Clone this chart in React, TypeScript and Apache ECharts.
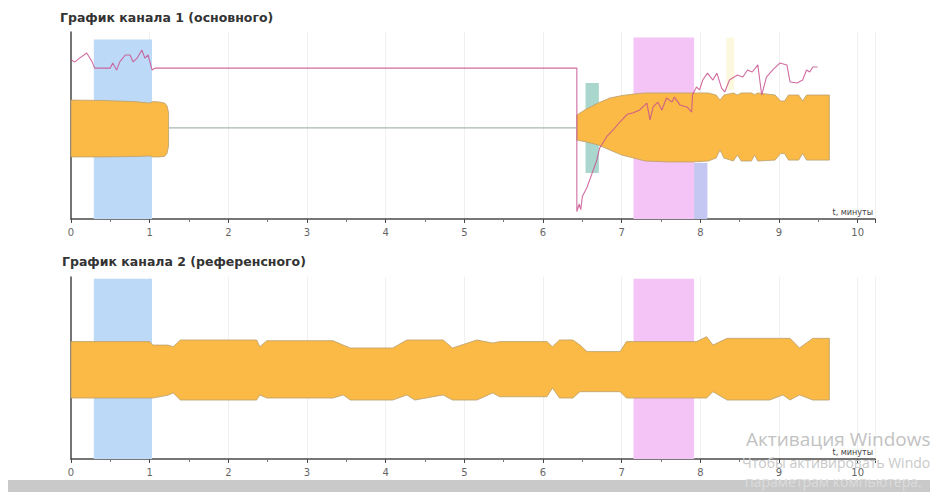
import React, { useEffect, useRef } from "react";
import * as echarts from "echarts";

// ---------- data (time in minutes, levels in relative units 0..100) ----------
const minuteLabels = [0, 1, 2, 3, 4, 5, 6, 7, 8, 9, 10];

// background intervals: [start, end, low, high, kind]
const ch1Intervals: [number, number, number, number, string][] = [
  [0.29, 1.03, 0, 96, "calib"],
  [6.54, 6.71, 24.6, 72.7, "teal"],
  [7.15, 7.92, 0, 97, "stim"],
  [7.92, 8.09, 0, 30, "lav"],
  [8.33, 8.43, 69, 97, "yel"],
];
const ch2Intervals: [number, number, number, number, string][] = [
  [0.29, 1.03, 0, 99, "calib"],
  [7.15, 7.92, 0, 99, "stim"],
];

// channel 1 envelope, segment A
const ch1A_t = [0, 0.4, 0.8, 1.0, 1.04, 1.12, 1.19, 1.22, 1.24];
const ch1A_low = [33.2, 33.2, 33.4, 33.7, 33.2, 33.2, 33.5, 35, 39];
const ch1A_high = [63.6, 63.4, 62.8, 62.0, 62.8, 62.6, 62.0, 60.5, 57];
// channel 1 envelope, segment B
const ch1B_t = [6.43, 6.55, 6.7, 6.85, 7.0, 7.15, 7.3, 7.6, 7.9, 8.1, 8.2, 8.25, 8.3, 8.42, 8.47, 8.52, 8.65, 8.69, 8.73, 8.95, 9.02, 9.07, 9.12, 9.25, 9.3, 9.35, 9.64];
const ch1B_low = [42.2, 41.2, 39.6, 36.9, 34.2, 32.6, 31, 30.5, 30.5, 31, 32.6, 36.9, 32.6, 31, 34.2, 31, 31, 34.2, 31, 31.5, 35, 35, 31.5, 31.5, 35, 31.5, 31.5];
const ch1B_high = [55.6, 58.8, 62, 64.7, 66, 66.8, 67.4, 67.4, 67.4, 67.4, 66.3, 63.6, 66.3, 67.4, 66.3, 67.4, 67.4, 66.5, 67.4, 66.3, 63.1, 63.1, 66.3, 66.3, 63.1, 66.3, 66.3];
// channel 1 flat trace between segments
const ch1Flat_t = [1.24, 6.43];
const ch1Flat_v = [48.7, 48.7];

// channel 1 second parameter (magenta trace)
const ch1Trace_t = [0, 0.05, 0.11, 0.2, 0.27, 0.3, 0.5, 0.53, 0.58, 0.62, 0.69, 0.75, 0.79, 0.84, 0.9, 0.94, 0.98, 1.03, 1.07, 6.43, 6.43, 6.46, 6.48, 6.5, 6.56, 6.62, 6.68, 6.72, 6.81, 6.89, 6.98, 7.07, 7.14, 7.23, 7.32, 7.36, 7.4, 7.46, 7.51, 7.57, 7.64, 7.67, 7.74, 7.83, 7.89, 7.9, 7.95, 7.99, 8.03, 8.09, 8.16, 8.21, 8.27, 8.31, 8.37, 8.41, 8.47, 8.54, 8.6, 8.66, 8.73, 8.78, 8.84, 8.92, 9.01, 9.1, 9.14, 9.23, 9.3, 9.35, 9.39, 9.43, 9.49];
const ch1Trace_v = [85, 84, 86, 88.8, 84, 80.7, 80.7, 83.4, 79.7, 84, 87.7, 87.7, 84, 86, 90.4, 86, 87.7, 79.7, 80.7, 80.7, 4, 8, 5, 12, 17, 24, 31, 38, 44, 47.6, 52, 56, 56.7, 58.3, 62, 53, 60, 62.5, 58.3, 64.7, 62.5, 65.2, 61, 59.9, 57.2, 66.3, 70.6, 69, 74.3, 78, 74.3, 78, 70, 67.9, 74.3, 75.4, 77, 75.9, 79.7, 78.6, 82.4, 66.3, 75.9, 79.7, 83.4, 82.4, 73.3, 72.7, 74.3, 79.7, 78.6, 81.3, 81.3];

// channel 2 envelope
const ch2_t = [0, 1.0, 1.04, 1.23, 1.3, 1.39, 2.36, 2.4, 2.49, 3.33, 3.46, 3.55, 4.09, 4.27, 4.37, 4.73, 4.85, 5.16, 5.36, 5.45, 6.05, 6.12, 6.21, 6.38, 6.47, 6.56, 6.98, 7.06, 7.95, 8.08, 8.16, 8.34, 8.88, 9.05, 9.14, 9.26, 9.43, 9.64];
const ch2_low = [33.5, 33.5, 33.5, 35, 36.3, 32.4, 32.4, 35.2, 33.5, 33.5, 35.2, 32.4, 32.4, 35.2, 32.4, 35.2, 32.4, 32.4, 36.3, 34.2, 34.2, 39, 33.5, 33.5, 37, 37, 37, 33.5, 33.5, 33.5, 37, 32.4, 32.4, 35.2, 32.4, 35.2, 32.4, 32.4];
const ch2_high = [64.5, 64.5, 62.6, 62.6, 61.7, 65.4, 65.4, 61.7, 65, 65, 62.6, 61, 61, 65.4, 65.4, 65.4, 61, 65.4, 63.7, 64.5, 64.5, 61.7, 65.4, 65.4, 62.6, 59, 59, 64.5, 64.5, 67.2, 62.6, 66.3, 66.3, 66.3, 66.3, 61, 66.3, 66.3];

const titles = ["График канала 1 (основного)", "График канала 2 (референсного)"];
const watermark = ["Активация Windows", "Чтобы активировать Windows, перейдите к", "параметрам компьютера."];

// ---------- styles ----------
const intervalColors: Record<string, string> = {
  calib: "#bcdaf7",
  stim: "#f4c4f6",
  lav: "#c4c7f1",
  teal: "#a9d7ce",
  yel: "#fcf8de",
};
const ORANGE = "#fbb946";
const EDGE = "#b9a06e";
const TRACE = "#c9528f";
const AXIS = "#4a4a4a";
const FONT = "DejaVu Sans";

function zip(t: number[], v: number[]) {
  return t.map((x, i) => [x, v[i]]);
}

type Seg = [number[], number[], number[]];

function envelopeSeries(gridIdx: number, segs: Seg[]) {
  return {
    type: "custom",
    xAxisIndex: gridIdx,
    yAxisIndex: gridIdx,
    z: 2,
    silent: true,
    encode: { x: [0, 1], y: [2, 3] },
    data: segs.map(([t, lo, hi]) => [t[0], t[t.length - 1], Math.min(...lo), Math.max(...hi)]),
    renderItem: (params: any, api: any) => {
      const [t, lo, hi] = segs[params.dataIndex];
      const top = t.map((x, i) => api.coord([x, hi[i]]));
      const bot = t.map((x, i) => api.coord([x, lo[i]]));
      const poly = [...top, ...bot.slice().reverse()];
      return {
        type: "polygon",
        shape: { points: poly },
        style: { fill: ORANGE, stroke: EDGE, lineWidth: 0.8 },
      };
    },
  };
}

function intervalsSeries(gridIdx: number, rows: [number, number, number, number, string][]) {
  return {
    type: "custom",
    xAxisIndex: gridIdx,
    yAxisIndex: gridIdx,
    z: 1,
    silent: true,
    encode: { x: [0, 1], y: [2, 3] },
    data: rows.map((r) => [r[0], r[1], r[2], r[3]]),
    renderItem: (params: any, api: any) => {
      const a = api.coord([api.value(0), api.value(3)]);
      const b = api.coord([api.value(1), api.value(2)]);
      const kind = rows[params.dataIndex][4];
      return {
        type: "rect",
        shape: { x: a[0], y: a[1], width: b[0] - a[0], height: b[1] - a[1] },
        style: { fill: intervalColors[kind] },
      };
    },
  };
}

function xAxis(gridIndex: number) {
  return {
    type: "value",
    gridIndex,
    min: 0,
    max: 10.22,
    interval: 1,
    axisLine: { show: true, onZero: false, lineStyle: { color: AXIS, width: 1.5 } },
    axisTick: { show: true, length: 4, lineStyle: { color: AXIS } },
    minorTick: { show: true, splitNumber: 2, length: 3, lineStyle: { color: "#777" } },
    axisLabel: {
      fontSize: 10,
      color: "#666",
      margin: 8,
      fontFamily: FONT,
      formatter: (v: number) => (minuteLabels.includes(v) ? String(v) : ""),
    },
    splitLine: { show: true, lineStyle: { color: "#f0f0f0", width: 1 } },
    name: "t, минуты",
    nameLocation: "end",
    nameGap: -2,
    nameTextStyle: {
      align: "right",
      verticalAlign: "bottom",
      fontSize: 8,
      color: "#444",
      fontFamily: FONT,
      padding: [0, 0, 3, 0],
    },
  };
}

function yAxis(gridIndex: number) {
  return {
    type: "value",
    gridIndex,
    min: 0,
    max: 100,
    axisLine: { show: true, onZero: false, lineStyle: { color: AXIS, width: 1.5 } },
    axisTick: { show: false },
    axisLabel: { show: false },
    splitLine: { show: false },
  };
}

export default function App() {
  const ref = useRef<HTMLDivElement>(null);
  useEffect(() => {
    if (!ref.current) return;
    const chart = echarts.init(ref.current, undefined, { renderer: "svg" });
    const titleStyle = { fontSize: 12.5, fontWeight: "bold", color: "#333", fontFamily: FONT };
    const option: any = {
      animation: false,
      backgroundColor: "#ffffff",
      title: [
        { text: titles[0], left: 60, top: 11, padding: 0, textStyle: titleStyle },
        { text: titles[1], left: 62, top: 255, padding: 0, textStyle: titleStyle },
      ],
      grid: [
        { left: 71, top: 32, width: 804, height: 187 },
        { left: 71, top: 277, width: 804, height: 182 },
      ],
      xAxis: [xAxis(0), xAxis(1)],
      yAxis: [yAxis(0), yAxis(1)],
      series: [
        intervalsSeries(0, ch1Intervals),
        intervalsSeries(1, ch2Intervals),
        envelopeSeries(0, [
          [ch1A_t, ch1A_low, ch1A_high],
          [ch1B_t, ch1B_low, ch1B_high],
        ]),
        {
          type: "line",
          name: "ch1-flat",
          xAxisIndex: 0,
          yAxisIndex: 0,
          symbol: "none",
          z: 2,
          silent: true,
          data: zip(ch1Flat_t, ch1Flat_v),
          lineStyle: { color: "#a9b7ab", width: 1.2 },
        },
        {
          type: "line",
          name: "ch1-trace",
          xAxisIndex: 0,
          yAxisIndex: 0,
          symbol: "none",
          z: 3,
          silent: true,
          data: zip(ch1Trace_t, ch1Trace_v),
          lineStyle: { color: TRACE, width: 1.1, opacity: 0.85 },
        },
        envelopeSeries(1, [[ch2_t, ch2_low, ch2_high]]),
      ],
      graphic: [
        {
          type: "rect",
          z: 50,
          shape: { x: 8, y: 480, width: 922, height: 12 },
          style: { fill: "#c9c9c9" },
        },
        {
          type: "text",
          z: 100,
          x: 746,
          y: 429,
          style: { text: watermark[0], fontSize: 19, fill: "#c2c2c2", fontFamily: "Open Sans" },
        },
        {
          type: "text",
          z: 100,
          x: 742,
          y: 455,
          style: { text: watermark[1], fontSize: 14, fill: "#c9c9c9", fontFamily: "Open Sans" },
        },
        {
          type: "text",
          z: 100,
          x: 745,
          y: 474,
          style: { text: watermark[2], fontSize: 14, fill: "#dcdcdc", fontFamily: "Open Sans" },
        },
      ],
    };
    chart.setOption(option);
    return () => chart.dispose();
  }, []);
  return (
    <div ref={ref} style={{ position: "fixed", left: 0, top: 0, width: 930, height: 492 }} />
  );
}
